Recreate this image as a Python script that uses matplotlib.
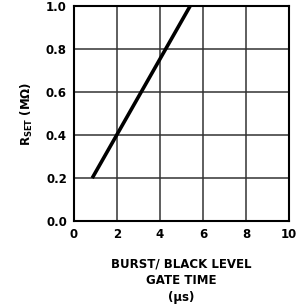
import matplotlib
matplotlib.use("Agg")
import matplotlib.pyplot as plt

# curve
gate_time = [0.85, 5.4]
r_set = [0.2, 1.0]

x_ticks = [0, 2, 4, 6, 8, 10]
y_ticks = [0.0, 0.2, 0.4, 0.6, 0.8, 1.0]
y_labels = ["0.0", "0.2", "0.4", "0.6", "0.8", "1.0"]

plt.rcParams["font.family"] = ["Liberation Sans Narrow", "DejaVu Sans"]
plt.rcParams["font.weight"] = "bold"

fig = plt.figure(figsize=(2.98, 3.05), dpi=100)
ax = fig.add_axes([0.248, 0.275, 0.722, 0.705])

ax.plot(gate_time, r_set, color="black", linewidth=2.6, solid_capstyle="butt")

ax.set_xlim(0, 10)
ax.set_ylim(0, 1.0)
ax.set_xticks(x_ticks)
ax.set_yticks(y_ticks)
ax.set_yticklabels(y_labels)
ax.grid(True, color="#333333", linewidth=1.1)
ax.tick_params(length=0, labelsize=8.5, pad=5)
for s in ax.spines.values():
    s.set_linewidth(1.5)
    s.set_color("black")

ax.set_xlabel("BURST/ BLACK LEVEL\nGATE TIME\n(\u03bcs)", fontsize=8.5,
              fontweight="bold", labelpad=12, linespacing=1.35)
ax.set_ylabel("R$_{\\mathregular{SET}}$ (M\u03a9)", fontsize=8.5,
              fontweight="bold", labelpad=8)

fig.savefig("out.png", dpi=100)
